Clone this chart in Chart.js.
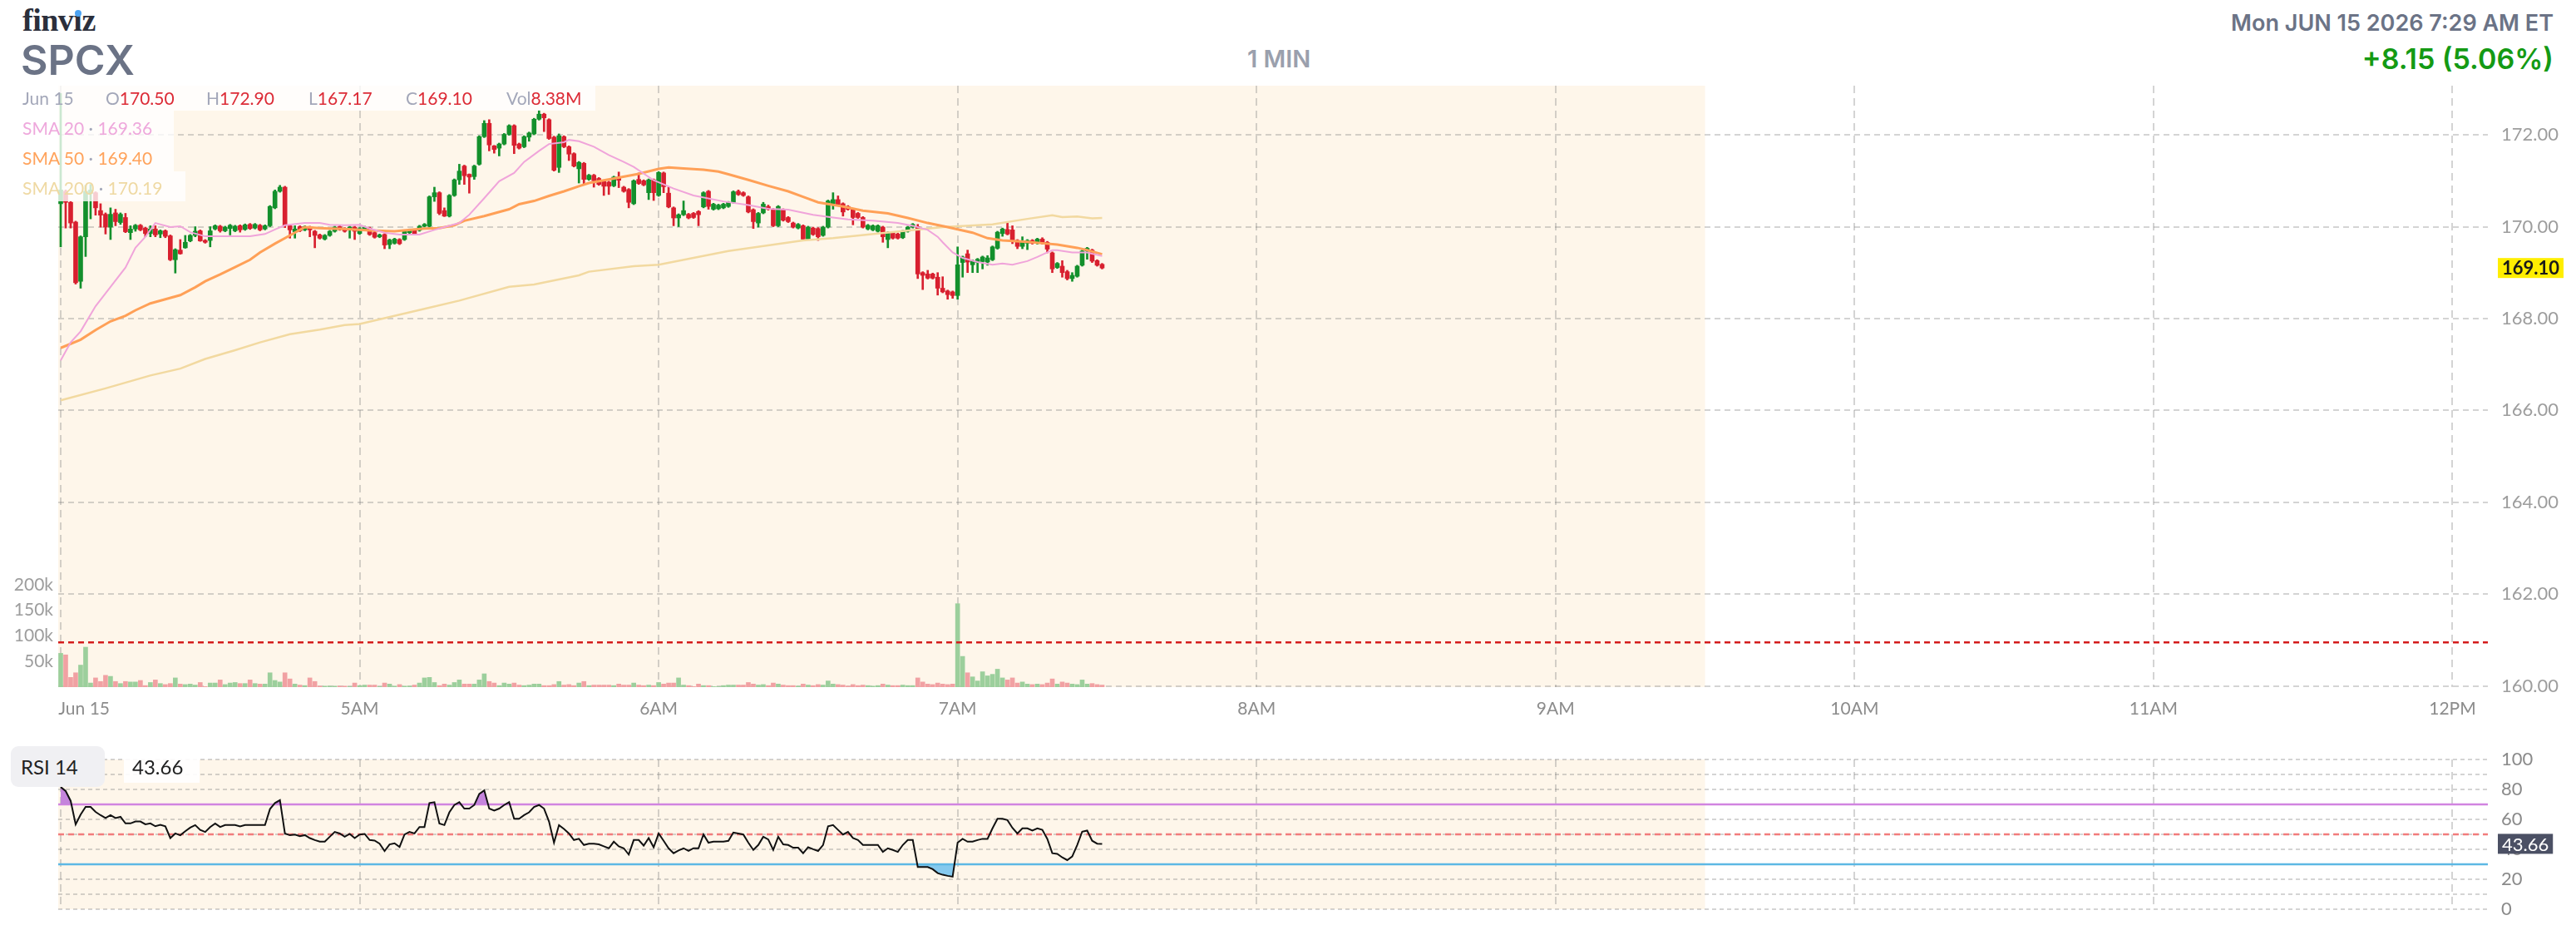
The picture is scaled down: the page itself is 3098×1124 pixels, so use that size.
<!DOCTYPE html>
<html>
<head>
<meta charset="utf-8">
<script src="https://cdn.jsdelivr.net/npm/chart.js@4.4.1/dist/chart.umd.min.js"></script>
<style>
  body { margin: 0; background: #fff; width: 3098px; height: 1124px; overflow: hidden; position: relative; font-family: Inter, Lato, sans-serif; }
  canvas { position: absolute; left: 0; }
  #price { top: 0; }
  #rsi { top: 880px; }
  .abs { position: absolute; white-space: nowrap; }
  #logo { left: 27px; top: 2px; font: bold 38px "Liberation Serif", serif; color: #2b2f3b; letter-spacing: -0.5px; }
  #dot { left: 90px; top: 12px; width: 8px; height: 8px; border-radius: 50%; background: #4da3f2; }
  #ticker { left: 25px; top: 42px; font-size: 50px; font-weight: 600; color: #6b7386; }
  #tf { left: 1500px; top: 53px; font-size: 29px; font-weight: 600; color: #9aa0ad; }
  #stamp { right: 27px; top: 11px; font-size: 27px; font-weight: 600; color: #6b7386; }
  #change { right: 27px; top: 50px; font-size: 34px; font-weight: 600; color: #149a14; }
  .box { position: absolute; background: rgba(255,255,255,0.78); z-index: 2; }
  .leg { position: absolute; z-index: 3; font: 21px Lato, sans-serif; white-space: nowrap; line-height: 1; }
  .lab { color: #a3a7b9; }
  .val { color: #dc2b36; }
  #rsiTag { left: 13px; top: 897px; width: 113px; height: 49px; background: #f0f0f3; border-radius: 9px; z-index: 2; }
  #rsiName { left: 25px; top: 910px; font-size: 24px; color: #222; }
  #rsiValBox { left: 149px; top: 912px; width: 91px; height: 29px; background: rgba(255,255,255,0.9); z-index: 2; }
  #rsiVal { left: 159px; top: 910px; font-size: 24px; color: #222; }
</style>
</head>
<body>
<div class="abs" id="logo">finvız</div>
<div class="abs" id="dot"></div>
<div class="abs" id="ticker">SPCX</div>
<div class="abs" id="tf">1 MIN</div>
<div class="abs" id="stamp">Mon JUN 15 2026 7:29 AM ET</div>
<div class="abs" id="change">+8.15 (5.06%)</div>

<canvas id="price" width="3098" height="880"></canvas>
<canvas id="rsi" width="3098" height="244"></canvas>

<div class="box" style="left:0;top:103px;width:716px;height:30px"></div>
<div class="box" style="left:0;top:133px;width:209px;height:37px"></div>
<div class="box" style="left:0;top:170px;width:209px;height:36px"></div>
<div class="box" style="left:0;top:206px;width:223px;height:36px"></div>
<div class="leg lab" style="left:27px;top:107px">Jun 15</div>
<div class="leg" style="left:127px;top:107px"><span class="lab">O</span><span class="val">170.50</span></div>
<div class="leg" style="left:248px;top:107px"><span class="lab">H</span><span class="val">172.90</span></div>
<div class="leg" style="left:371px;top:107px"><span class="lab">L</span><span class="val">167.17</span></div>
<div class="leg" style="left:488px;top:107px"><span class="lab">C</span><span class="val">169.10</span></div>
<div class="leg" style="left:609px;top:107px"><span class="lab">Vol</span><span class="val">8.38M</span></div>
<div class="leg" style="left:27px;top:143px;color:#eea8dc">SMA 20 <span class="lab">·</span> 169.36</div>
<div class="leg" style="left:27px;top:179px;color:#ffa35c">SMA 50 <span class="lab">·</span> 169.40</div>
<div class="leg" style="left:27px;top:215px;color:#efd9a3">SMA 200 <span class="lab">·</span> 170.19</div>

<div class="abs" id="rsiTag"></div>
<div class="abs" id="rsiValBox"></div>
<div class="abs leg" id="rsiName">RSI 14</div>
<div class="abs leg" id="rsiVal">43.66</div>

<script>
// 1-minute bars from 4:00 AM, index = minutes after 4:00
const opens = [
  170.50,170.77,170.53,170.10,168.81,169.78,170.72,170.74,170.35,170.27,
  169.99,170.30,170.09,170.20,169.87,169.95,170.03,169.97,169.85,169.95,
  169.84,169.91,169.80,169.28,169.49,169.54,169.69,169.81,169.91,169.70,
  169.70,169.95,170.01,169.91,169.96,169.91,170.02,169.94,170.05,169.97,
  170.03,169.95,170.02,170.41,170.77,170.86,170.02,169.89,170.00,169.93,
  169.99,169.90,169.82,169.73,169.81,169.90,170.00,169.96,169.93,169.99,
  169.85,169.93,169.97,169.87,169.78,169.83,169.61,169.64,169.72,169.72,
  169.87,169.93,169.92,170.01,170.01,170.65,170.74,170.35,170.23,170.68,
  171.02,171.32,171.14,171.09,171.36,171.96,172.25,171.76,171.71,171.80,
  172.01,172.20,171.80,171.74,171.95,172.02,172.34,172.45,172.33,171.95,
  171.29,171.96,171.74,171.59,171.26,171.38,171.03,171.12,171.05,170.99,
  170.97,170.89,171.08,170.86,170.81,170.50,171.03,171.00,170.74,171.02,
  170.68,171.17,170.73,170.41,170.19,170.26,170.27,170.29,170.33,170.43,
  170.77,170.38,170.39,170.41,170.44,170.53,170.77,170.74,170.65,170.37,
  170.08,170.30,170.44,170.38,170.02,170.37,170.20,170.08,169.97,170.02,
  169.73,169.97,169.96,169.81,169.99,170.50,170.59,170.50,170.44,170.38,
  170.29,170.20,169.95,169.93,169.90,169.99,169.72,169.87,169.84,169.76,
  169.90,169.99,170.00,169.00,168.97,168.97,168.90,168.66,168.60,168.58,
  168.50,169.22,169.41,169.17,169.22,169.24,169.23,169.28,169.53,169.85,
  169.94,169.93,169.70,169.57,169.64,169.70,169.64,169.73,169.66,169.43,
  169.11,169.14,169.02,168.87,168.92,169.16,169.47,169.49,169.26,169.18
];
const highs = [
  172.90,170.80,170.55,170.12,169.80,170.90,170.92,170.76,170.50,170.30,
  170.41,170.38,170.30,170.29,170.02,170.05,170.05,169.99,170.02,170.02,
  169.93,169.93,169.82,169.52,169.72,169.81,169.83,170.00,169.93,169.72,
  170.00,170.04,170.03,170.01,170.05,170.03,170.04,170.06,170.07,170.07,
  170.05,170.04,170.46,170.80,170.90,170.88,170.04,170.02,170.02,170.02,
  170.01,169.92,169.84,169.83,169.92,170.01,170.02,169.98,170.01,170.01,
  169.98,170.01,169.99,169.89,169.84,169.85,169.73,169.75,169.74,169.92,
  169.95,169.95,170.03,170.07,170.67,170.86,170.76,170.41,170.70,171.04,
  171.36,171.34,171.15,171.34,171.98,172.31,172.33,171.77,171.82,172.03,
  172.22,172.22,171.82,171.98,172.06,172.36,172.53,172.47,172.35,171.97,
  172.02,171.98,171.76,171.61,171.42,171.40,171.14,171.14,171.07,171.01,
  170.99,171.10,171.19,170.88,170.83,171.02,171.17,171.02,171.04,171.04,
  171.20,171.19,170.86,170.43,170.28,170.56,170.29,170.31,170.35,170.76,
  170.79,170.51,170.49,170.51,170.55,170.78,170.80,170.76,170.67,170.39,
  170.31,170.53,170.47,170.40,170.46,170.39,170.22,170.10,170.07,170.04,
  170.01,169.99,169.98,170.01,170.58,170.74,170.67,170.52,170.46,170.40,
  170.31,170.22,170.05,170.04,170.04,170.01,169.89,169.89,169.86,169.92,
  170.01,170.07,170.05,169.02,169.05,168.99,169.00,168.91,168.62,168.60,
  169.56,169.36,169.49,169.28,169.31,169.36,169.37,169.58,169.90,169.97,
  170.08,170.02,169.72,169.78,169.72,169.72,169.75,169.76,169.68,169.45,
  169.22,169.26,169.05,169.00,169.16,169.49,169.55,169.51,169.28,169.20
];
const lows = [
  169.56,169.97,169.97,168.75,168.66,169.35,170.17,170.25,169.99,169.84,
  169.72,170.02,170.05,169.87,169.72,169.90,169.91,169.78,169.78,169.78,
  169.76,169.76,169.26,168.99,169.40,169.53,169.67,169.78,169.68,169.64,
  169.56,169.93,169.88,169.89,169.82,169.89,169.88,169.92,169.94,169.95,
  169.91,169.93,170.00,170.39,170.75,169.98,169.75,169.75,169.89,169.91,
  169.78,169.54,169.73,169.71,169.79,169.88,169.92,169.88,169.75,169.72,
  169.83,169.91,169.81,169.75,169.76,169.52,169.52,169.62,169.61,169.70,
  169.85,169.83,169.90,169.99,169.99,170.55,170.26,170.22,170.21,170.66,
  170.92,170.92,170.73,171.03,171.34,171.94,171.65,171.60,171.54,171.78,
  171.99,171.59,171.69,171.72,171.86,172.00,172.32,172.07,171.90,171.21,
  171.18,171.72,171.44,171.30,170.95,170.92,171.01,170.86,170.90,170.68,
  170.70,170.87,170.85,170.75,170.41,170.48,170.92,170.89,170.59,170.57,
  170.66,170.74,170.41,170.02,170.00,170.24,170.17,170.18,170.02,170.41,
  170.38,170.36,170.37,170.39,170.42,170.51,170.68,170.66,170.30,169.96,
  169.99,170.28,170.36,170.00,170.00,170.12,170.09,169.97,169.95,169.71,
  169.71,169.81,169.70,169.79,169.97,170.38,170.45,170.23,170.36,170.04,
  170.18,169.97,169.93,169.91,169.88,169.66,169.54,169.73,169.73,169.74,
  169.88,169.97,168.87,168.63,168.86,168.86,168.51,168.56,168.42,168.44,
  168.42,168.90,169.00,169.00,169.00,169.08,169.16,169.26,169.51,169.79,
  169.82,169.63,169.52,169.52,169.50,169.62,169.62,169.62,169.43,169.00,
  169.09,168.90,168.84,168.81,168.90,169.14,169.29,169.22,169.14,169.08
];
const closes = [
  170.80,170.53,170.08,168.78,169.78,170.77,170.80,170.41,170.25,169.99,
  170.27,170.11,170.27,169.89,169.95,170.03,169.93,169.85,169.95,169.82,
  169.91,169.79,169.28,169.50,169.41,169.66,169.81,169.90,169.69,169.66,
  169.91,170.02,169.91,169.99,170.03,170.01,169.93,170.04,169.96,170.05,
  169.93,170.02,170.44,170.77,170.86,170.03,169.93,169.95,169.91,170.00,
  169.93,169.81,169.75,169.81,169.90,169.99,169.94,169.90,169.99,169.90,
  169.96,169.99,169.83,169.77,169.82,169.60,169.71,169.73,169.63,169.90,
  169.93,169.85,170.01,170.05,170.65,170.74,170.29,170.23,170.68,171.02,
  171.21,171.11,171.08,171.32,171.96,172.25,171.78,171.68,171.80,172.01,
  172.20,171.77,171.71,171.96,172.04,172.34,172.45,172.37,171.92,171.23,
  171.98,171.74,171.58,171.32,171.40,171.03,171.12,171.00,170.92,170.88,
  170.88,171.08,171.01,170.77,170.53,171.00,170.94,170.91,171.02,170.74,
  171.18,170.87,170.43,170.19,170.26,170.35,170.19,170.20,170.26,170.74,
  170.44,170.49,170.47,170.49,170.53,170.76,170.70,170.68,170.32,170.11,
  170.29,170.49,170.38,170.02,170.44,170.14,170.11,169.99,170.05,169.73,
  169.99,169.83,169.78,169.99,170.56,170.59,170.47,170.32,170.38,170.20,
  170.20,169.99,170.03,170.02,170.02,169.78,169.87,169.75,169.75,169.90,
  169.99,170.05,168.97,168.94,168.88,168.88,168.66,168.58,168.52,168.50,
  169.17,169.34,169.23,169.26,169.29,169.34,169.32,169.56,169.88,169.95,
  169.84,169.69,169.57,169.67,169.70,169.64,169.73,169.64,169.51,169.08,
  169.20,169.00,168.87,168.94,169.14,169.47,169.53,169.25,169.16,169.10
];
// volume in thousands
const volumes = [
  66,63,19,28,43,78,8,18,11,23, 21,11,7,11,10,10,13,3,9,14,
  7,5,7,18,6,5,6,4,9,1, 8,8,14,5,8,9,7,7,14,7,
  6,6,28,13,10,28,16,6,4,3, 18,11,2,2,2,2,2,2,1,8,
  3,4,4,4,1,8,6,2,5,2, 2,4,8,18,19,9,3,6,4,9,
  14,6,6,6,14,26,11,8,3,8, 6,8,4,3,4,6,6,3,3,5,
  11,4,5,3,8,11,3,4,4,4, 4,3,6,4,4,8,4,3,4,3,
  9,6,8,8,18,4,3,1,6,3, 3,1,1,3,4,4,4,4,9,6,
  4,5,3,8,6,4,3,3,2,6, 4,3,5,4,12,6,5,4,2,5,
  3,4,3,2,3,6,4,3,3,4, 3,3,18,10,6,5,8,6,5,6,
  163,60,28,20,12,30,22,25,35,18, 14,18,8,10,6,5,6,5,8,16,
  6,10,8,6,5,14,6,7,5,4
];
const rsi = [
  81.6,78.9,72.4,56.7,63.2,68.3,68.3,65.0,62.8,60.9,
  62.8,60.9,61.7,57.3,57.3,58.6,58.6,56.7,57.3,55.4,
  56.4,55.4,47.5,50.6,49.4,52.1,54.5,56.2,53.0,51.6,
  54.9,57.3,54.9,56.2,56.2,56.2,55.3,56.2,56.2,56.2,
  56.2,56.2,66.9,70.9,72.8,50.6,49.4,49.9,48.8,49.5,
  47.5,46.2,45.1,45.1,48.4,51.6,50.6,48.4,50.3,47.5,
  49.9,50.3,46.2,45.9,43.8,38.9,43.3,44.0,41.6,49.9,
  51.6,50.6,54.9,54.9,70.9,71.5,57.3,56.2,64.7,69.6,
  71.5,67.2,67.2,69.6,77.0,79.4,67.2,65.9,67.2,69.6,
  71.5,60.4,60.4,62.8,64.7,68.3,69.6,67.2,58.6,44.4,
  56.2,53.6,50.6,46.2,47.0,42.9,43.8,43.8,43.3,42.0,
  40.7,45.1,42.0,40.7,36.5,46.2,46.2,42.5,47.5,41.4,
  50.6,45.7,40.7,37.4,39.2,40.7,38.9,40.7,40.7,49.9,
  44.4,45.1,45.1,45.1,45.7,51.2,50.6,49.9,44.4,39.6,
  42.9,48.4,46.6,39.6,48.4,43.3,42.9,41.1,41.1,37.4,
  41.4,40.1,38.9,42.9,55.4,56.2,53.0,49.9,51.6,47.5,
  46.2,42.9,42.9,42.9,42.9,38.3,40.7,39.6,38.3,42.9,
  46.2,46.2,28.2,28.2,28.2,26.7,24.1,23.0,22.3,21.7,
  44.4,47.0,45.1,45.1,46.2,47.0,47.0,54.0,60.4,60.4,
  59.5,54.3,50.6,54.0,54.0,52.5,54.0,53.0,47.0,37.4,
  37.0,34.6,32.8,35.2,42.9,51.8,52.5,45.7,43.8,43.66
];
// moving averages (minute, value)
const sma20Min = [0,2,4,7,10,13,15,17,19,22,24,26,29,32,38,41,43,45,49,52,54,57,60,62,65,68,72,75,77,80,82,85,88,91,93,96,98,101,102,104,107,110,113,115,119,123,127,133,138,142,146,151,155,158,163,168,171,174,176,177,179,181,184,187,189,191,194,196,199,200,203,206,207,209];
const sma20Val = [167.09,167.48,167.72,168.27,168.69,169.11,169.54,169.78,170.08,169.99,170.01,169.88,169.79,169.79,169.79,169.84,169.94,170.03,170.08,170.08,170.04,170.03,170.04,169.96,169.87,169.83,169.83,169.93,169.99,170.08,170.26,170.62,170.99,171.17,171.41,171.65,171.80,171.84,171.89,171.86,171.74,171.56,171.41,171.30,171.01,170.83,170.68,170.55,170.47,170.39,170.37,170.26,170.20,170.16,170.13,170.08,170.02,169.93,169.78,169.66,169.44,169.32,169.23,169.17,169.20,169.17,169.25,169.34,169.49,169.49,169.44,169.44,169.41,169.36];
const sma50Min = [0,4,7,10,13,15,18,21,24,27,29,32,35,38,40,43,46,49,52,54,57,62,67,73,76,79,81,85,90,92,95,98,101,104,106,109,112,116,120,122,125,129,132,134,138,142,146,149,152,157,161,166,170,174,178,183,186,189,194,197,200,204,206,209];
const sma50Val = [167.36,167.54,167.75,167.94,168.06,168.18,168.33,168.42,168.51,168.68,168.81,168.96,169.12,169.28,169.44,169.63,169.81,169.99,169.97,169.96,169.95,169.92,169.90,169.96,169.97,170.03,170.13,170.23,170.38,170.49,170.56,170.67,170.77,170.88,170.95,171.01,171.07,171.15,171.26,171.29,171.27,171.24,171.20,171.14,171.02,170.89,170.77,170.65,170.53,170.44,170.35,170.29,170.19,170.08,169.99,169.87,169.75,169.70,169.67,169.64,169.61,169.54,169.49,169.40];
const sma200Min = [0,9,18,24,29,35,40,46,52,57,60,73,80,90,95,104,106,115,120,134,149,155,164,177,187,194,199,201,204,207,209];
const sma200Val = [166.22,166.48,166.76,166.91,167.12,167.31,167.48,167.66,167.76,167.86,167.88,168.21,168.39,168.69,168.74,168.94,169.02,169.14,169.17,169.47,169.70,169.75,169.85,169.99,170.05,170.17,170.25,170.21,170.22,170.18,170.19];

const prevClose = 160.95;
const priceTicksStep = 2;
const timeLabels = ["Jun 15", "5AM", "6AM", "7AM", "8AM", "9AM", "10AM", "11AM", "12PM"];
const timeTicks = [0, 60, 120, 180, 240, 300, 360, 420, 480];
const sessionOpen = 330; // 9:30
const rsiLevels = { high: 70, mid: 50, low: 30 };

const xMin = -0.5, xMax = 487.1;
const GREEN = '#13902c', RED = '#d8202f';
const FONT = "Lato, 'Open Sans', sans-serif";
const GRID = 'rgba(120,120,120,0.32)';

const idx = closes.map((_, i) => i);
const up = idx.map(i => closes[i] >= opens[i]);
const candleColors = up.map(u => u ? GREEN : RED);
const volColors = up.map(u => u ? '#9ccf9c' : '#f1a1a3');
const pts = (xs, ys) => xs.map((x, k) => ({ x, y: ys[k] }));

const premarket = {
  id: 'premarket',
  beforeDraw(chart) {
    const { ctx, chartArea: a, scales: { x } } = chart;
    ctx.save();
    ctx.fillStyle = '#fef6ea';
    ctx.fillRect(a.left, a.top, x.getPixelForValue(sessionOpen) - a.left, a.bottom - a.top);
    ctx.restore();
  }
};

function valueTag(scaleId, value, text, bg, fg, bold) {
  return {
    id: 'tag_' + scaleId,
    afterDraw(chart) {
      const { ctx, chartArea: a } = chart;
      const y = chart.scales[scaleId].getPixelForValue(value);
      ctx.save();
      ctx.font = (bold ? 'bold ' : '') + '22px ' + FONT;
      const w = ctx.measureText(text).width + 10;
      ctx.fillStyle = bg;
      ctx.fillRect(a.right + 12, y - 12, w, 24);
      ctx.fillStyle = fg;
      ctx.textBaseline = 'middle';
      ctx.fillText(text, a.right + 17, y + 1);
      ctx.restore();
    }
  };
}

// hourly vertical grid shared by both panels
function hourGrid() {
  return {
    type: 'linear', position: 'bottom', min: xMin, max: xMax, offset: false, weight: 0,
    afterBuildTicks: s => { s.ticks = timeTicks.map(v => ({ value: v })); },
    ticks: { display: false },
    grid: { color: GRID, lineWidth: 2, drawTicks: false, offset: false },
    border: { display: false, dash: [9, 6] },
    afterFit: s => { s.height = 0; }
  };
}

new Chart(document.getElementById('price'), {
  type: 'bar',
  data: {
    datasets: [
      { type: 'line', data: [{ x: xMin, y: prevClose }, { x: xMax, y: prevClose }], borderColor: '#d41c1c', borderWidth: 2.5, borderDash: [7, 5], pointRadius: 0, yAxisID: 'y', order: 0 },
      { type: 'line', data: pts(sma20Min, sma20Val), borderColor: '#f0a4da', borderWidth: 2, pointRadius: 0, yAxisID: 'y', order: 1 },
      { type: 'line', data: pts(sma50Min, sma50Val), borderColor: '#ffa057', borderWidth: 3, pointRadius: 0, yAxisID: 'y', order: 1 },
      { type: 'line', data: pts(sma200Min, sma200Val), borderColor: '#f2d9a0', borderWidth: 2.5, pointRadius: 0, yAxisID: 'y', order: 1 },
      { data: idx.map(i => ({ x: i, y: [lows[i], highs[i]] })), backgroundColor: candleColors, barThickness: 2, grouped: false, yAxisID: 'y', order: 2 },
      { data: idx.map(i => ({ x: i, y: [opens[i], closes[i]] })), backgroundColor: candleColors, barThickness: 5, minBarLength: 2, grouped: false, yAxisID: 'y', order: 2 },
      { data: idx.map(i => ({ x: i, y: volumes[i] })), backgroundColor: volColors, barThickness: 5, grouped: false, yAxisID: 'yv', order: 3 }
    ]
  },
  options: {
    responsive: false, animation: false, devicePixelRatio: 1,
    layout: { padding: { top: 103 } },
    plugins: { legend: { display: false }, tooltip: { enabled: false } },
    scales: {
      x: hourGrid(),
      x2: {
        type: 'linear', position: 'bottom', min: xMin, max: xMax, offset: false, weight: 1,
        afterBuildTicks: s => { s.ticks = timeTicks.map((v, k) => ({ value: k === 0 ? v + 4.7 : v })); },
        ticks: { autoSkip: false, maxRotation: 0, padding: 14, color: '#8c8c8c', font: { family: FONT, size: 21 }, callback: (v, k) => timeLabels[k] },
        grid: { display: false, drawTicks: false },
        border: { display: false },
        afterFit: s => { s.height = 54; }
      },
      y: {
        position: 'right', min: 159.975, max: 173.07,
        ticks: { stepSize: priceTicksStep, includeBounds: false, padding: 16, color: '#9d9d9d', font: { family: FONT, size: 22 }, callback: v => v.toFixed(2) },
        grid: { color: GRID, lineWidth: 2, drawTicks: false },
        border: { display: false, dash: [7, 5] },
        afterFit: s => { s.width = 106; }
      },
      yv: {
        position: 'left', min: 0, max: 1175,
        ticks: { stepSize: 50, includeBounds: false, autoSkip: false, padding: 6, color: '#9d9d9d', font: { family: FONT, size: 21 }, callback: v => (v >= 50 && v <= 200) ? v + 'k' : '' },
        grid: { display: false, drawTicks: false },
        border: { display: false },
        afterFit: s => { s.width = 70; }
      }
    }
  },
  plugins: [premarket, valueTag('y', closes[closes.length - 1], closes[closes.length - 1].toFixed(2), '#ffee00', '#1a1a1a', true)]
});

const rsiPts = idx.map(i => ({ x: i, y: rsi[i] }));
const level = v => [{ x: xMin, y: v }, { x: xMax, y: v }];

new Chart(document.getElementById('rsi'), {
  type: 'line',
  data: {
    datasets: [
      { data: level(rsiLevels.mid), borderColor: '#f27c7c', borderWidth: 2.5, borderDash: [7, 5], pointRadius: 0, order: 3 },
      { data: level(rsiLevels.high), borderColor: '#d184e0', borderWidth: 2.5, pointRadius: 0, order: 2 },
      { data: level(rsiLevels.low), borderColor: '#5db8e4', borderWidth: 2.5, pointRadius: 0, order: 2 },
      { data: rsiPts, borderWidth: 0, pointRadius: 0, fill: { target: { value: rsiLevels.low }, above: 'rgba(0,0,0,0)', below: '#85c9ee' }, order: 4 },
      { data: rsiPts, borderColor: '#111', borderWidth: 2, pointRadius: 0, fill: { target: { value: rsiLevels.high }, above: '#c585dc', below: 'rgba(0,0,0,0)' }, order: 1 }
    ]
  },
  options: {
    responsive: false, animation: false, devicePixelRatio: 1,
    layout: { padding: { top: 33, left: 70, bottom: 31 } },
    plugins: { legend: { display: false }, tooltip: { enabled: false } },
    scales: {
      x: hourGrid(),
      y: {
        position: 'right', min: 0, max: 100,
        ticks: { stepSize: 10, autoSkip: false, padding: 16, color: '#8a8a8a', font: { family: FONT, size: 22 }, callback: v => v % 20 === 0 ? v : '' },
        grid: { color: GRID, lineWidth: 2, drawTicks: false },
        border: { display: false, dash: [5, 4] },
        afterFit: s => { s.width = 106; }
      }
    }
  },
  plugins: [premarket, valueTag('y', rsi[rsi.length - 1], rsi[rsi.length - 1].toFixed(2), '#4b5064', '#ffffff', false)]
});
</script>
</body>
</html>
